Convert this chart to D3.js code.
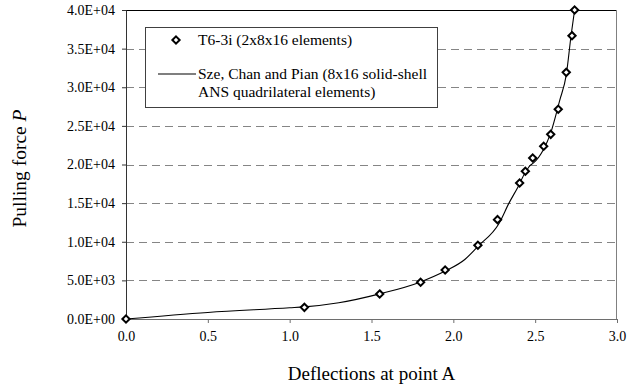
<!DOCTYPE html>
<html>
<head>
<meta charset="utf-8">
<script src="https://cdn.jsdelivr.net/npm/d3@7"></script>
<style>
  body { margin: 0; background: #fff; }
  text { font-family: "Liberation Serif", "Times New Roman", serif; fill: #000; }
</style>
</head>
<body>
<div id="chart"></div>
<script>
// Data
let xTicks = [0, 0.5, 1.0, 1.5, 2.0, 2.5, 3.0];
let yTicks = [0, 5000, 10000, 15000, 20000, 25000, 30000, 35000, 40000];

// T6-3i (2x8x16 elements)
let t6X = [0, 1.09, 1.55, 1.80, 1.95, 2.15, 2.27, 2.405, 2.44, 2.485, 2.552, 2.595, 2.641, 2.69, 2.725, 2.741];
let t6P = [0, 1510, 3240, 4750, 6340, 9540, 12860, 17600, 19120, 20840, 22360, 23900, 27150, 31930, 36670, 40000];

// Sze, Chan and Pian reference curve
let szeX = [0, 0.5, 1.0, 1.09, 1.3, 1.55, 1.8, 1.95, 2.07, 2.15, 2.28, 2.34, 2.395, 2.44, 2.47, 2.49, 2.55, 2.595, 2.65, 2.69, 2.72, 2.741];
let szeP = [0, 850, 1450, 1570, 2100, 3250, 4800, 6200, 7700, 9400, 12400, 15000, 17100, 19000, 19900, 20200, 21900, 24100, 28300, 31600, 36800, 40000];

let svgWidth = 628;
let svgHeight = 391;

let margin = { top: 10, right: 11, bottom: 72, left: 126 };
let width = svgWidth - margin.left - margin.right;
let height = svgHeight - margin.top - margin.bottom;

let svg = d3
  .select("#chart")
  .append("svg")
  .attr("width", svgWidth)
  .attr("height", svgHeight);

let chartGroup = svg
  .append("g")
  .attr("transform", `translate(${margin.left}, ${margin.top})`);

let xScale = d3.scaleLinear().domain([0, 3]).range([0, width]);
let yScale = d3.scaleLinear().domain([0, 40000]).range([height, 0]);

// tick label like 4.0E+04
function sciFormat(v) {
  if (v === 0) return "0.0E+00";
  let e = Math.floor(Math.log10(v));
  let m = v / Math.pow(10, e);
  return m.toFixed(1) + "E+" + String(e).padStart(2, "0");
}

// dashed gridlines
chartGroup
  .selectAll("line.grid")
  .data(yTicks.filter(d => d > 0 && d < 40000))
  .enter()
  .append("line")
  .attr("class", "grid")
  .attr("x1", 0)
  .attr("x2", width)
  .attr("y1", d => Math.round(yScale(d)) + 0.5)
  .attr("y2", d => Math.round(yScale(d)) + 0.5)
  .attr("stroke", "#858585")
  .attr("stroke-width", 1)
  .attr("stroke-dasharray", "8,5");

// plot frame: top black, right grey
chartGroup
  .append("line")
  .attr("x1", 0).attr("x2", width)
  .attr("y1", 0.5).attr("y2", 0.5)
  .attr("stroke", "#000");
chartGroup
  .append("line")
  .attr("x1", width - 0.5).attr("x2", width - 0.5)
  .attr("y1", 0).attr("y2", height)
  .attr("stroke", "#808080");

// axes
let bottomAxis = d3
  .axisBottom(xScale)
  .tickValues(xTicks)
  .tickSize(4)
  .tickPadding(8)
  .tickFormat(d3.format(".1f"));

let leftAxis = d3
  .axisLeft(yScale)
  .tickValues(yTicks)
  .tickSize(4)
  .tickPadding(7)
  .tickFormat(sciFormat);

let xAxis = chartGroup
  .append("g")
  .attr("transform", `translate(0, ${height})`)
  .call(bottomAxis);

let yAxis = chartGroup.append("g").call(leftAxis);

xAxis.attr("font-size", 14).attr("font-family", "'Liberation Serif', serif");
yAxis.attr("font-size", 14).attr("font-family", "'Liberation Serif', serif");
xAxis.selectAll("path, line").attr("stroke", "#6e6e6e");
yAxis.selectAll("path, line").attr("stroke", "#333");

// reference line
let szeData = szeX.map((x, i) => [x, szeP[i]]);
let line = d3
  .line()
  .x(d => xScale(d[0]))
  .y(d => yScale(d[1]))
  .curve(d3.curveMonotoneX);

chartGroup
  .append("path")
  .datum(szeData)
  .attr("d", line)
  .attr("fill", "none")
  .attr("stroke", "#000")
  .attr("stroke-width", 1.1);

// diamonds
let diamond = d3.symbol().type(d3.symbolDiamond2).size(34);
let t6Data = t6X.map((x, i) => [x, t6P[i]]);

chartGroup
  .selectAll("path.pt")
  .data(t6Data)
  .enter()
  .append("path")
  .attr("class", "pt")
  .attr("d", diamond)
  .attr("transform", d => `translate(${xScale(d[0])}, ${yScale(d[1])})`)
  .attr("fill", "#fff")
  .attr("stroke", "#000")
  .attr("stroke-width", 2);

// legend
let legend = svg.append("g");

legend
  .append("rect")
  .attr("x", 145.5)
  .attr("y", 27.5)
  .attr("width", 292)
  .attr("height", 80)
  .attr("fill", "#fff")
  .attr("stroke", "#404040")
  .attr("stroke-width", 1);

legend
  .append("path")
  .attr("d", diamond)
  .attr("transform", "translate(176, 40)")
  .attr("fill", "#fff")
  .attr("stroke", "#000")
  .attr("stroke-width", 2);

legend
  .append("text")
  .attr("x", 198)
  .attr("y", 45)
  .attr("font-size", 15.5)
  .text("T6-3i (2x8x16 elements)");

legend
  .append("line")
  .attr("x1", 158)
  .attr("x2", 196)
  .attr("y1", 74)
  .attr("y2", 74)
  .attr("stroke", "#000")
  .attr("stroke-width", 1.1);

legend
  .append("text")
  .attr("x", 198)
  .attr("y", 79)
  .attr("font-size", 15.5)
  .text("Sze, Chan and Pian (8x16 solid-shell");

legend
  .append("text")
  .attr("x", 198)
  .attr("y", 97)
  .attr("font-size", 15.5)
  .text("ANS quadrilateral elements)");

// axis titles
svg
  .append("text")
  .attr("x", margin.left + width / 2)
  .attr("y", 380)
  .attr("text-anchor", "middle")
  .attr("font-size", 19)
  .text("Deflections at point A");

let yTitle = svg
  .append("text")
  .attr("transform", `translate(26, ${margin.top + height / 2 + 4}) rotate(-90)`)
  .attr("text-anchor", "middle")
  .attr("font-size", 19.5);

yTitle.append("tspan").text("Pulling force ");
yTitle.append("tspan").attr("font-style", "italic").text("P");
</script>
</body>
</html>
